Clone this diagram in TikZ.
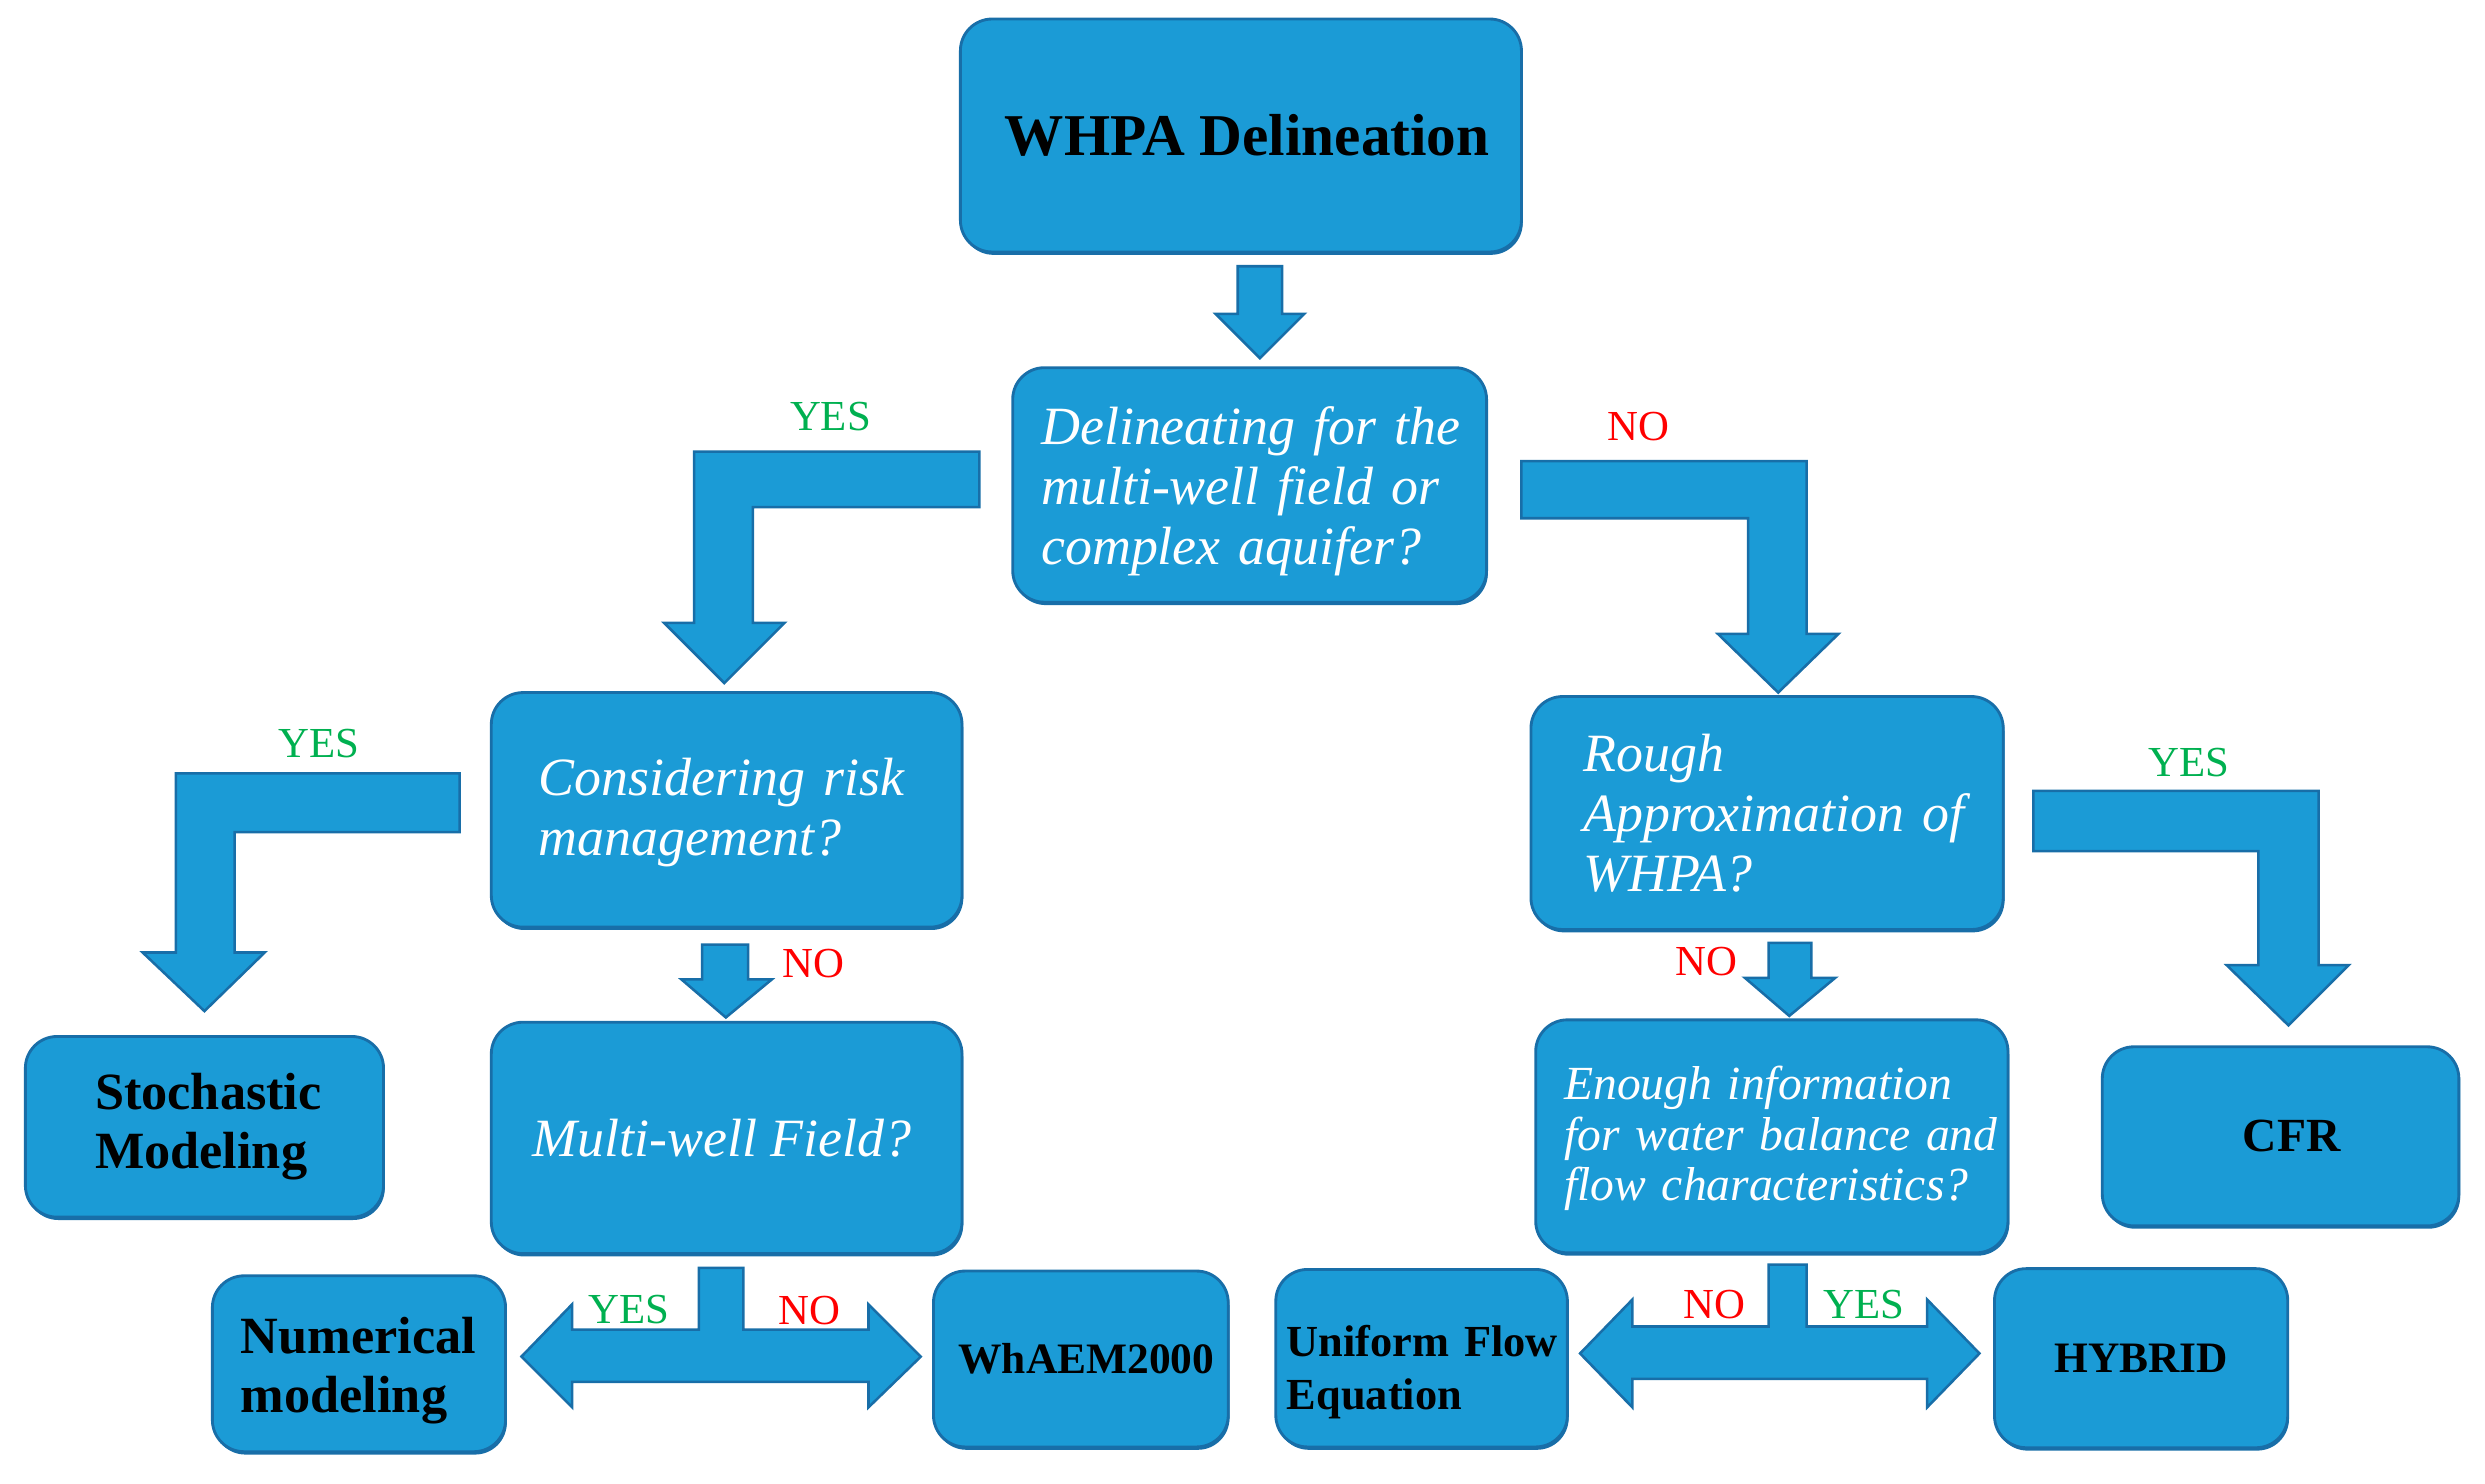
\documentclass[tikz,border=0pt]{standalone}
\usepackage{fontspec}
\setmainfont{Liberation Serif}
\usetikzlibrary{shadows}
\definecolor{boxfill}{RGB}{27,155,214}
\definecolor{boxline}{RGB}{24,110,168}
\definecolor{yesgreen}{RGB}{0,176,80}
\definecolor{nored}{RGB}{255,0,0}
\newcommand{\oneline}[1]{\mbox{#1}}
\newcommand{\pushdown}[1]{\rule{0pt}{#1}}
\begin{document}
\begin{tikzpicture}[x=0.5pt,y=-0.5pt,
  box/.style={draw=boxline, fill=boxfill, line width=0.9pt, rounded corners=10pt, inner sep=0pt,
    drop shadow={shadow xshift=0.4pt, shadow yshift=-0.9pt, fill=boxline, opacity=1}},
  qtext/.style={text=white, font=\fontsize{17}{19}\selectfont\itshape, align=left},
  btext/.style={text=black, font=\fontsize{16.5}{18.5}\selectfont\bfseries, align=left},
  blk/.style={draw=boxline, fill=boxfill, line width=0.8pt, line join=miter},
  yeslab/.style={text=yesgreen, inner sep=0pt, font=\fontsize{13.5}{14}\selectfont},
  nolab/.style={text=nored, inner sep=0pt, font=\fontsize{13.5}{14}\selectfont}]
\useasboundingbox (0,0) rectangle (1568,936);

% ---- boxes ----
\node[box, minimum width=177pt, minimum height=73.5pt, font=\fontsize{18.7}{20}\selectfont\bfseries]
  (whpa) at (783,85.5) {\hspace*{4pt}WHPA Delineation};
\node[box, qtext, minimum width=149.5pt, minimum height=74pt, text width=131.5pt]
  (multi) at (788.5,306) {\pushdown{16pt}\oneline{Delineating for the}\\\oneline{multi-well field or}\\\oneline{complex aquifer?}};
\node[box, qtext, minimum width=148.5pt, minimum height=74pt, text width=118.5pt]
  (risk) at (458.5,511) {\pushdown{13.6pt}\oneline{Considering risk}\\\oneline{management?}};
\node[box, qtext, minimum width=148.5pt, minimum height=73pt, align=center]
  (mwf) at (458.5,718) {Multi-well Field?\hspace*{3pt}};
\node[box, btext, minimum width=113pt, minimum height=57pt, text width=69pt]
  (stoch) at (129,711) {\oneline{Stochastic}\\\oneline{Modeling}};
\node[box, btext, minimum width=92.5pt, minimum height=55.5pt, text width=74.5pt]
  (num) at (226.5,860.5) {\pushdown{15.7pt}\oneline{Numerical}\\\oneline{modeling}};
\node[box, minimum width=93pt, minimum height=55.5pt, font=\fontsize{13.7}{15}\selectfont\bfseries]
  (whaem) at (682,857.5) {\hspace*{3.5pt}WhAEM2000};
\node[box, qtext, minimum width=149pt, minimum height=73.5pt, text width=116pt]
  (rough) at (1115,513) {\oneline{Rough}\\\oneline{Approximation of}\\\oneline{WHPA?}};
\node[box, qtext, minimum width=149pt, minimum height=73.5pt, text width=131pt,
  font=\fontsize{15}{16}\selectfont\itshape]
  (enough) at (1118,717) {\pushdown{12pt}\oneline{Enough information}\\\oneline{for water balance and}\\\oneline{flow characteristics?}};
\node[box, minimum width=112.5pt, minimum height=56.5pt, font=\fontsize{15}{16}\selectfont\bfseries]
  (cfr) at (1439,717) {\hspace*{7pt}CFR};
\node[box, btext, minimum width=92pt, minimum height=56pt, text width=85pt,
  font=\fontsize{14}{16.5}\selectfont\bfseries]
  (ufe) at (897,857) {\pushdown{18.6pt}\oneline{Uniform Flow}\\\oneline{Equation}};
\node[box, minimum width=92.5pt, minimum height=56.5pt, font=\fontsize{13.7}{15}\selectfont\bfseries]
  (hybrid) at (1351,857) {HYBRID};

% ---- block arrows ----
% WHPA -> multi
\draw[blk] (781,168) -- (809,168) -- (809,198) -- (823,198) -- (795,226) -- (767,198) -- (781,198) -- cycle;
% multi -> risk (YES)
\draw[blk] (618,285) -- (438,285) -- (438,393) -- (419,393) -- (457,431) -- (495,393) -- (475,393) -- (475,320) -- (618,320) -- cycle;
% multi -> rough (NO)
\draw[blk] (960,291) -- (1140,291) -- (1140,400) -- (1160,400) -- (1122,437) -- (1084,400) -- (1103,400) -- (1103,327) -- (960,327) -- cycle;
% risk -> stoch (YES)
\draw[blk] (290,488) -- (111,488) -- (111,601) -- (90,601) -- (129,638) -- (167,601) -- (148,601) -- (148,525) -- (290,525) -- cycle;
% risk -> mwf (NO)
\draw[blk] (443,596) -- (472,596) -- (472,618) -- (487,618) -- (458,642) -- (430,618) -- (443,618) -- cycle;
% rough -> cfr (YES)
\draw[blk] (1283,499) -- (1463,499) -- (1463,609) -- (1482,609) -- (1444,647) -- (1405,609) -- (1425,609) -- (1425,537) -- (1283,537) -- cycle;
% rough -> enough (NO)
\draw[blk] (1116,595) -- (1143,595) -- (1143,617) -- (1158,617) -- (1129,641) -- (1101,617) -- (1116,617) -- cycle;
% mwf -> num / whaem
\draw[blk] (441,800) -- (469,800) -- (469,839) -- (548,839) -- (548,823) -- (581,856) -- (548,888) -- (548,872)
  -- (361,872) -- (361,888) -- (329,856) -- (361,823) -- (361,839) -- (441,839) -- cycle;
% enough -> ufe / hybrid
\draw[blk] (1116,798) -- (1140,798) -- (1140,837) -- (1216,837) -- (1216,820) -- (1249,854) -- (1216,888) -- (1216,870)
  -- (1030,870) -- (1030,888) -- (997,854) -- (1030,820) -- (1030,837) -- (1116,837) -- cycle;

% ---- labels ----
\node[yeslab] (y1) at (524,263) {YES};
\node[nolab]  (n1) at (1034,269) {NO};
\node[yeslab] (y2) at (201,469) {YES};
\node[nolab]  (n2) at (513,608) {NO};
\node[yeslab] (y3) at (397,826.5) {YES};
\node[nolab]  (n3) at (510.5,827) {NO};
\node[yeslab] (y4) at (1381,481) {YES};
\node[nolab]  (n4) at (1077,607) {NO};
\node[nolab]  (n5) at (1082,823) {NO};
\node[yeslab] (y5) at (1176,823) {YES};
\end{tikzpicture}
\end{document}
